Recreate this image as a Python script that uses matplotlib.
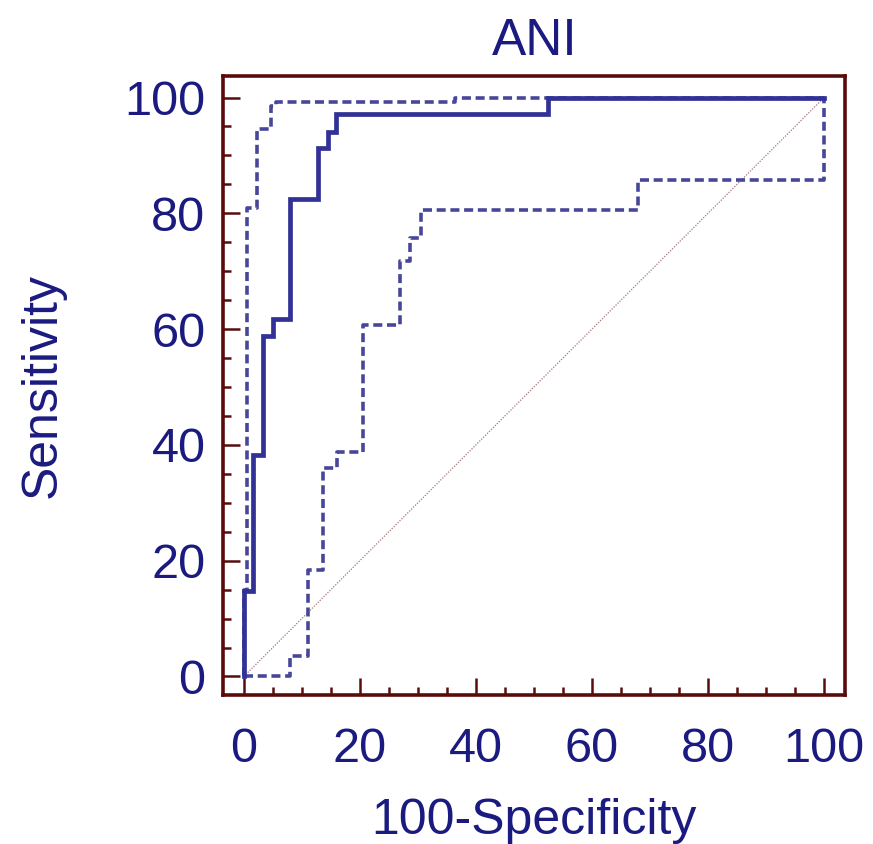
import matplotlib
matplotlib.use("Agg")
import matplotlib.pyplot as plt
from matplotlib.ticker import MultipleLocator

# ROC curve (100-Specificity, Sensitivity) step points
roc_x = [0, 0, 1.6, 1.6, 3.3, 3.3, 5.0, 5.0, 8.0, 8.0, 12.8, 12.8, 14.5, 14.5, 15.9, 15.9, 52.4, 52.4, 100]
roc_y = [0, 14.7, 14.7, 38.2, 38.2, 58.8, 58.8, 61.8, 61.8, 82.4, 82.4, 91.2, 91.2, 94.1, 94.1, 97.1, 97.1, 100, 100]

# upper confidence bound
up_x = [0, 0, 0.5, 0.5, 2.2, 2.2, 4.6, 4.6, 5.6, 5.6, 36.4, 36.4, 100]
up_y = [0, 15, 15, 81, 81, 94.6, 94.6, 98.6, 98.6, 99.2, 99.2, 100, 100]

# lower confidence bound
lo_x = [0, 8.0, 8.0, 11.0, 11.0, 13.7, 13.7, 16.0, 16.0, 20.5, 20.5, 26.9, 26.9, 28.6, 28.6, 30.6, 30.6, 67.9, 67.9, 100, 100]
lo_y = [0, 0, 3.5, 3.5, 18.4, 18.4, 36.0, 36.0, 38.7, 38.7, 60.7, 60.7, 71.7, 71.7, 75.8, 75.8, 80.5, 80.5, 85.7, 85.7, 100]

diag = [0, 100]
x_ticks = [0, 20, 40, 60, 80, 100]
y_ticks = [0, 20, 40, 60, 80, 100]

NAVY = "#1a1a80"
LINE = "#323296"
DASH = "#46469a"
SPINE = "#5a0c0c"

plt.rcParams['font.family'] = ['Liberation Sans', 'DejaVu Sans']

W, H = 873, 844
fig = plt.figure(figsize=(W / 100, H / 100), dpi=100)
ax = fig.add_axes([223.5 / W, (H - 695) / H, (845 - 223.5) / W, (695 - 75.5) / H])

ax.plot(diag, diag, color="#a07878", lw=0.9, ls=(0, (1, 1.2)), zorder=1)
l1, = ax.plot(lo_x, lo_y, color=DASH, lw=2.6, zorder=2)
l1.set_dashes((2.5, 1.3))
l2, = ax.plot(up_x, up_y, color=DASH, lw=2.6, zorder=2)
l2.set_dashes((2.5, 1.3))
ax.plot(roc_x, roc_y, color=LINE, lw=3.4, solid_joinstyle='miter', zorder=3)

ax.set_xlim(-3.5, 103.6)
ax.set_ylim(-3.2, 103.8)

for s in ax.spines.values():
    s.set_color(SPINE)
    s.set_linewidth(2.6)

ax.set_xticks(x_ticks)
ax.set_yticks(y_ticks)
ax.xaxis.set_minor_locator(MultipleLocator(5))
ax.yaxis.set_minor_locator(MultipleLocator(5))
ax.tick_params(which='major', direction='in', length=12, width=1.8, color=SPINE,
               labelsize=35, labelcolor=NAVY)
ax.tick_params(which='minor', direction='in', length=6, width=1.8, color=SPINE)
ax.tick_params(axis='x', which='major', pad=23)
ax.tick_params(axis='y', which='major', pad=13)

ax.set_title("ANI", fontsize=37, color=NAVY, pad=15)
ax.set_xlabel("100-Specificity", fontsize=36, color=NAVY, labelpad=19)
ax.set_ylabel("Sensitivity", fontsize=36, color=NAVY, labelpad=42)

fig.savefig("out.png", dpi=100)
